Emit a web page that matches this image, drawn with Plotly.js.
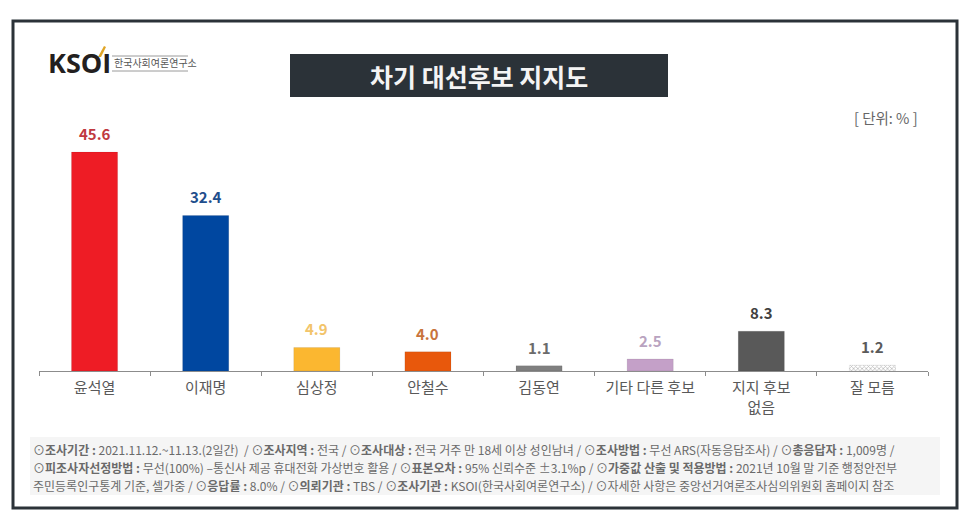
<!DOCTYPE html>
<html>
<head>
<meta charset="utf-8">
<script src="https://cdn.plot.ly/plotly-3.0.1.min.js"></script>
<style>
html,body{margin:0;padding:0;background:#ffffff;}
#chart{width:970px;height:528px;}
</style>
</head>
<body>
<div id="chart"></div>
<script>
// ---- data ----
const categories = ["윤석열", "이재명", "심상정", "안철수", "김동연", "기타 다른 후보", "지지 후보<br>없음", "잘 모름"];
const values = [45.6, 32.4, 4.9, 4.0, 1.1, 2.5, 8.3, 1.2];
const chartTitle = "차기 대선후보 지지도";
const unitLabel = "[ 단위: % ]";
const footLines = [
  "⊙<b>조사기간 :</b> 2021.11.12.~11.13.(2일간)  / ⊙<b>조사지역 :</b> 전국 / ⊙<b>조사대상 :</b> 전국 거주 만 18세 이상 성인남녀 / ⊙<b>조사방법 :</b> 무선 ARS(자동응답조사) / ⊙<b>총응답자 :</b> 1,009명 /",
  "⊙<b>피조사자선정방법 :</b> 무선(100%) –통신사 제공 휴대전화 가상번호 활용 / ⊙<b>표본오차 :</b> 95% 신뢰수준 ±3.1%p / ⊙<b>가중값 산출 및 적용방법 :</b> 2021년 10월 말 기준 행정안전부",
  "주민등록인구통계 기준, 셀가중 / ⊙<b>응답률 :</b> 8.0% / ⊙<b>의뢰기관 :</b> TBS / ⊙<b>조사기관 :</b> KSOI(한국사회여론연구소) / ⊙자세한 사항은 중앙선거여론조사심의위원회 홈페이지 참조"
];

// ---- styles ----
const barColors = ["#ee1c25", "#0047a0", "#fbb730", "#e8580c", "#7f7f7f", "#c4a0c8", "#595959", "#bdbdbd"];
const labelColors = ["#c0393f", "#1f4e8c", "#f2c46a", "#c8743c", "#6b6b6b", "#b9a3c0", "#404040", "#5a5a5a"];
const patternShapes = ["", "", "", "", "", "", "", "x"];

const W = 970, H = 528;
const M = {l: 39, r: 42, t: 131, b: 157};
const PW = W - M.l - M.r, PH = H - M.t - M.b;
const px = x => (x - M.l) / PW;
const py = y => (H - M.b - y) / PH;
const FONT = "'Noto Sans CJK KR', 'Noto Sans', sans-serif";

const trace = {
  type: "bar",
  x: categories,
  y: values,
  marker: {
    color: barColors,
    line: {color: "rgba(0,0,0,0.15)", width: 0.5},
    pattern: {shape: patternShapes, fgcolor: "#7a7a7a", bgcolor: "#c4c4c4", size: 3, solidity: 0.45, fillmode: "replace"}
  },
  hoverinfo: "x+y"
};

const annotations = [];
values.forEach((v, i) => {
  annotations.push({
    x: categories[i], y: v, xref: "x", yref: "y",
    text: "<b>" + v.toFixed(1) + "</b>", showarrow: false,
    yanchor: "bottom", yshift: 6,
    font: {family: FONT, size: 15, color: labelColors[i]}
  });
});
// title
annotations.push({x: px(479), y: py(76), xref: "paper", yref: "paper", text: "<b>" + chartTitle + "</b>", showarrow: false,
  xanchor: "center", yanchor: "middle", font: {family: FONT, size: 25, color: "#f4f4f4"}});
// unit
annotations.push({x: px(886), y: py(117), xref: "paper", yref: "paper", text: unitLabel, showarrow: false,
  xanchor: "center", yanchor: "middle", font: {family: FONT, size: 14.5, color: "#666666"}});
// logo
annotations.push({x: px(46), y: py(63), xref: "paper", yref: "paper", text: "<b>KSOI</b>", showarrow: false,
  xanchor: "left", yanchor: "middle", font: {family: "'Open Sans', sans-serif", size: 27, color: "#231f20"}});
annotations.push({x: px(112), y: py(63), xref: "paper", yref: "paper", text: "한국사회여론연구소", showarrow: false,
  xanchor: "left", yanchor: "middle", font: {family: FONT, size: 10, color: "#555555"}});
// footnotes
footLines.forEach((t, i) => {
  annotations.push({x: px(32), y: py(449 + i * 18), xref: "paper", yref: "paper", text: t, showarrow: false,
    xanchor: "left", yanchor: "middle", align: "left", borderpad: 0,
    font: {family: FONT, size: 12, color: "#6a6a6a"}});
});

const shapes = [
  // outer frame
  {type: "rect", xref: "paper", yref: "paper", x0: px(13), x1: px(957), y0: py(21), y1: py(508),
    line: {color: "#2b3238", width: 3}, fillcolor: "rgba(0,0,0,0)", layer: "below"},
  // title box
  {type: "rect", xref: "paper", yref: "paper", x0: px(290), x1: px(668), y0: py(54), y1: py(97),
    line: {width: 0}, fillcolor: "#2b3238", layer: "below"},
  // footnote box
  {type: "rect", xref: "paper", yref: "paper", x0: px(30), x1: px(940), y0: py(437), y1: py(495),
    line: {width: 0}, fillcolor: "#f5f5f5", layer: "below"},
  // logo lines
  {type: "line", xref: "paper", yref: "paper", x0: px(112), x1: px(188), y0: py(56), y1: py(56),
    line: {color: "#9a9a9a", width: 1}},
  {type: "line", xref: "paper", yref: "paper", x0: px(112), x1: px(188), y0: py(71), y1: py(71),
    line: {color: "#9a9a9a", width: 1}},
  // gold accent on logo
  {type: "path", xref: "paper", yref: "paper",
    path: `M ${px(98)} ${py(57)} L ${px(104)} ${py(46)} L ${px(106)} ${py(47)} L ${px(101)} ${py(57)} Z`,
    fillcolor: "#e0a526", line: {width: 0}}
];

const layout = {
  width: W, height: H,
  margin: M,
  paper_bgcolor: "#ffffff",
  plot_bgcolor: "rgba(0,0,0,0)",
  showlegend: false,
  bargap: 0.585,
  xaxis: {
    type: "category",
    showgrid: false, zeroline: false,
    showline: true, linecolor: "#8c8c8c", linewidth: 1.2,
    ticks: "outside", tickson: "boundaries", ticklen: 4, tickcolor: "#8c8c8c",
    ticklabelstandoff: 3,
    tickfont: {family: FONT, size: 15, color: "#595959"},
    fixedrange: true
  },
  yaxis: {
    range: [0, 50], visible: false, showgrid: false, zeroline: false, fixedrange: true
  },
  annotations: annotations,
  shapes: shapes
};

Plotly.newPlot("chart", [trace], layout, {displayModeBar: false, staticPlot: true});
</script>
</body>
</html>
